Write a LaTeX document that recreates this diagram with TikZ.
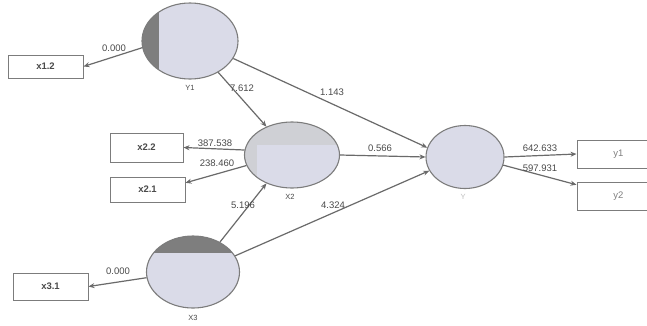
\documentclass[tikz,border=0pt]{standalone}
\usepackage{fontspec}
\setmainfont{Liberation Sans}
\usetikzlibrary{shapes.geometric,arrows.meta}
\definecolor{lineg}{HTML}{6A6A6A}
\definecolor{boxg}{HTML}{7C7C7C}
\definecolor{txtg}{HTML}{4A4A4A}
\definecolor{ellfill}{HTML}{DADBE8}
\definecolor{ellgray}{HTML}{CFD0D5}
\definecolor{darkseg}{HTML}{7E7E7E}
\begin{document}
\begin{tikzpicture}[x=1pt,y=-1pt,
  ell/.style={ellipse, draw=boxg, line width=1.1pt, fill=ellfill, inner sep=0pt},
  ind/.style={rectangle, draw=boxg, line width=1pt, fill=white, inner sep=0pt, font=\fontsize{9.5}{10}\selectfont\bfseries, text=txtg},
  conn/.style={draw=lineg, line width=1.2pt, -{Stealth[length=6pt,width=5pt]}},
  coef/.style={font=\fontsize{9.5}{10}\selectfont, text=txtg, inner sep=0pt},
  lvname/.style={font=\fontsize{7.5}{8}\selectfont, text=txtg, inner sep=0pt}]
\useasboundingbox (0,0) rectangle (647,325);
\clip (0,0) rectangle (647,325);
\fill[white] (0,0) rectangle (647,325);

% latent variables
\node[ell, minimum width=96pt, minimum height=76pt,
  path picture={\fill[darkseg] (path picture bounding box.south west) rectangle ([xshift=-31pt]path picture bounding box.north);}] (Y1) at (190,41) {};
\node[ell, minimum width=95pt, minimum height=66pt, fill=ellgray,
  path picture={\fill[ellfill] ([xshift=-35pt,yshift=10pt]path picture bounding box.center) rectangle (path picture bounding box.south east);}] (X2) at (292,155) {};
\node[ell, minimum width=78pt, minimum height=63pt] (Y) at (465,157) {};
\node[ell, minimum width=93pt, minimum height=72pt,
  path picture={\fill[darkseg] (path picture bounding box.north west) rectangle ([yshift=19pt]path picture bounding box.east);}] (X3) at (193,272) {};

\node[lvname] (lY1) at (190,88) {Y1};
\node[lvname] (lX2) at (290,197) {X2};
\node[lvname, text=black!25] (lY) at (463,197) {Y};
\node[lvname] (lX3) at (193,318) {X3};

% indicators
\node[ind, minimum width=75pt, minimum height=23pt] (x12) at (45.5,66.5) {x1.2};
\node[ind, minimum width=73pt, minimum height=29pt] (x22) at (146.5,147.5) {x2.2};
\node[ind, minimum width=75pt, minimum height=25pt] (x21) at (147.5,189.5) {x2.1};
\node[ind, minimum width=75pt, minimum height=27pt] (x31) at (50.5,286.5) {x3.1};
\node[ind, minimum width=83pt, minimum height=28pt, font=\fontsize{9.5}{10}\selectfont, text=black!50] (y1) at (618.5,154) {y1};
\node[ind, minimum width=83pt, minimum height=28pt, font=\fontsize{9.5}{10}\selectfont, text=black!50] (y2) at (618.5,196) {y2};

% connectors
\draw[conn] (Y1.188) -- (x12.east);
\draw[conn] (Y1.-48) -- (X2.132);
\draw[conn] (Y1.-22) -- (Y.166);
\draw[conn] (X2.174) -- (x22.east);
\draw[conn] (X2.193) -- (x21.10);
\draw[conn] (X2.east) -- (Y.west);
\draw[conn] (X3.187) -- (x31.east);
\draw[conn] (X3.48) -- (X2.228);
\draw[conn] (X3.21) -- (Y.201);
\draw[conn] (Y.east) -- (y1.west);
\draw[conn] (Y.-12) -- (y2.165);

% coefficients
\node[coef] (c1) at (114,48) {0.000};
\node[coef] (c2) at (242,88) {7.612};
\node[coef] (c3) at (332,92) {1.143};
\node[coef] (c4) at (215,143) {387.538};
\node[coef] (c5) at (217,163) {238.460};
\node[coef] (c6) at (380,148) {0.566};
\node[coef] (c7) at (333,205) {4.324};
\node[coef] (c8) at (243,205) {5.196};
\node[coef] (c9) at (118,271) {0.000};
\node[coef] (c10) at (540,148) {642.633};
\node[coef] (c11) at (540,168) {597.931};
\end{tikzpicture}
\end{document}
